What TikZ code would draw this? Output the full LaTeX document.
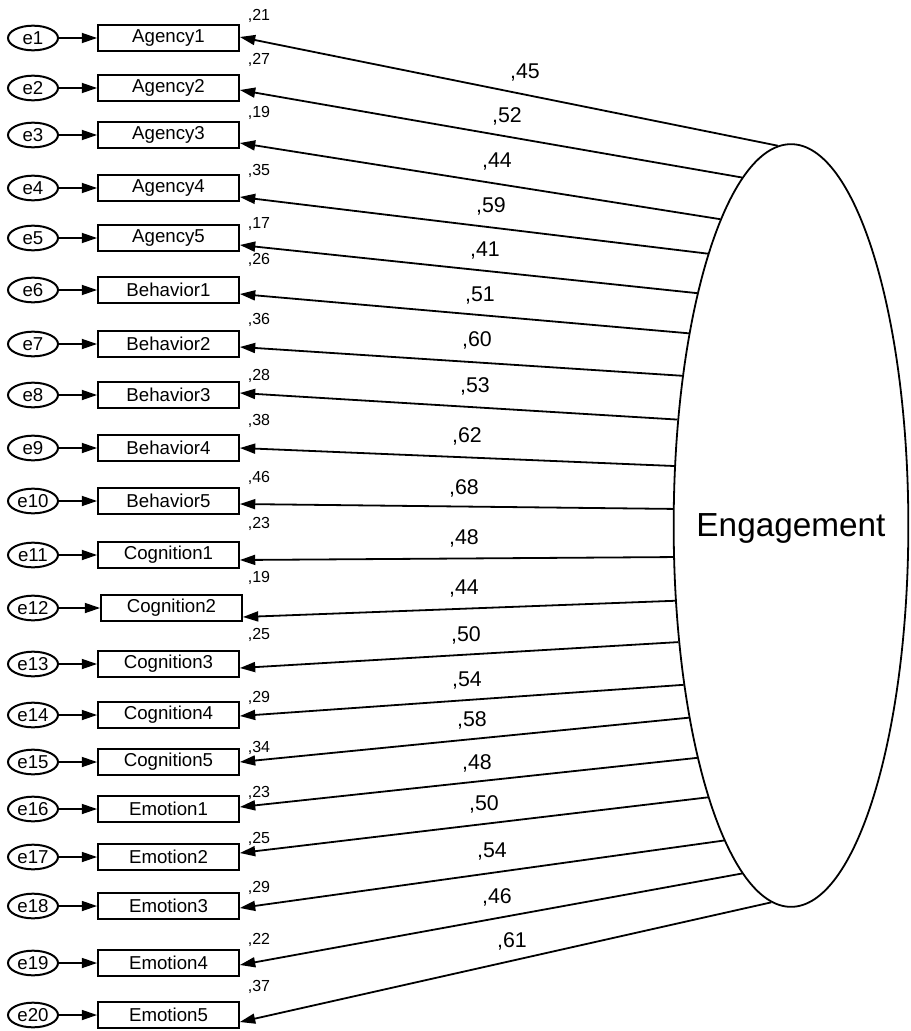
\documentclass[tikz,border=0pt]{standalone}
\usepackage{fontspec}
\setmainfont{Liberation Sans}
\usetikzlibrary{arrows.meta,shapes.geometric,calc}
\begin{document}
\begin{tikzpicture}[x=0.75pt,y=-0.75pt]
\tikzset{
  obs/.style={draw, line width=1.6pt, minimum width=105.5pt, minimum height=20pt,
    inner sep=0pt, font=\fontsize{14}{16}\selectfont},
  err/.style={ellipse, draw, line width=1.5pt, minimum width=37.5pt, minimum height=18.5pt,
    inner sep=0pt, font=\fontsize{14}{16}\selectfont},
  lat/.style={ellipse, draw, line width=1.35pt, minimum width=176pt, minimum height=572pt,
    inner sep=0pt},
  latname/.style={inner sep=0pt, text depth=0pt, font=\fontsize{25}{29}\selectfont},
  regarrow/.style={line width=1.35pt, -{Triangle[length=11.5pt,width=7.5pt]}},
  varlbl/.style={inner sep=0pt, text depth=0pt, font=\fontsize{12}{14}\selectfont},
  loadlbl/.style={inner sep=0pt, text depth=0pt, font=\fontsize{16}{18}\selectfont},
}
\useasboundingbox (0,0) rectangle (910,1031);

% latent factor: outline and its name
\node[lat] (eng) at (791,525.5) {};
\node[latname] (engname) at (eng.center) {Engagement};

% indicators: index / name / box x / y / tip offset / border angle / R^2 / R^2 y / loading / label x / label y
\foreach \i/\nm/\bx/\y/\dy/\ang/\v/\vy/\ld/\lx/\ly in {
  1/Agency1/168.5/38/-1/92.6/21/15/45/525/71,
  2/Agency2/168.5/88/2/98.9/27/59/52/507/115,
  3/Agency3/168.5/135/8/103.0/19/112/44/497/160,
  4/Agency4/168.5/188/9/107.5/35/170/59/491/205,
  5/Agency5/168.5/238/7/112.0/17/223/41/485/249,
  6/Behavior1/168.5/290/4/118.3/26/259/51/480/294,
  7/Behavior2/168.5/344/3/126.5/36/319/60/477/339,
  8/Behavior3/168.5/395/-2/137.8/28/375/53/475/385,
  9/Behavior4/168.5/448/0/153.4/38/420/62/467/435,
  10/Behavior5/168.5/501/3/172.5/46/477/68/464/487,
  11/Cognition1/168.5/555/5/195.4/23/523/48/464/537,
  12/Cognition2/171.5/608/9/213.0/19/577/44/464/587,
  13/Cognition3/168.5/664/4/226.2/25/634/50/466/634,
  14/Cognition4/168.5/715/1/236.0/29/697/54/467/679,
  15/Cognition5/168.5/762/0/242.7/34/747/58/472/719,
  16/Emotion1/168.5/809/-2/248.5/23/792/48/477/762,
  17/Emotion2/168.5/857/-4/253.5/25/838/50/484/803,
  18/Emotion3/168.5/906/2/258.3/29/887/54/492/850,
  19/Emotion4/168.5/963/2/262.8/22/939/46/497/896,
  20/Emotion5/168.5/1015/7/267.5/37/986/61/512/940}
{
  \node[obs] (b\i) at (\bx,\y) {\nm};
  \node[err] (e\i) at (33,\y) {e\i};
  \node[varlbl] (v\i) at (259,\vy) {,\v};
  \node[loadlbl] (l\i) at (\lx,\ly) {,\ld};
  \draw[regarrow] (e\i) -- (b\i);
  \draw[regarrow] (eng.\ang) -- ($(b\i.east)+(0,\dy)$);
}
\end{tikzpicture}
\end{document}
